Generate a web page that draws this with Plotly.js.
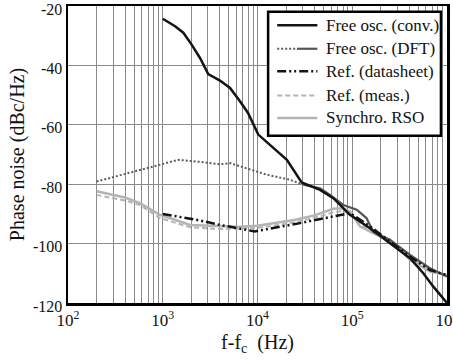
<!DOCTYPE html>
<html>
<head>
<meta charset="utf-8">
<script src="https://cdn.plot.ly/plotly-3.0.1.min.js"></script>
<style>html,body{margin:0;padding:0;background:#fff;}#chart{width:453px;height:363px;}</style>
</head>
<body>
<div id="chart"></div>
<script>
// Free oscillator (conventional)
const convF = [1000, 1349, 1648, 2018, 2472, 3020, 4018, 5129, 6531, 7943, 10190, 14690, 20420, 29240, 45710, 63100, 94620, 153800, 251200, 407400, 562300, 717800, 1000000];
const convV = [-24.3, -26.8, -29.0, -33.0, -37.5, -42.9, -45.1, -47.6, -52.1, -56.0, -63.3, -67.8, -71.8, -79.4, -81.9, -84.7, -90.3, -94.8, -99.9, -104.9, -110.0, -114.5, -120.0];
// Free oscillator (DFT) - dotted part
const dftDotF = [200, 400, 800, 1460, 2500, 4000, 5130, 7690, 12500, 22000, 30400];
const dftDotV = [-79.1, -76.6, -74.0, -71.8, -72.5, -73.3, -72.9, -74.6, -76.8, -78.5, -80.2];
// Free oscillator (DFT) - solid part
const dftSolF = [30400, 45700, 58200, 80400, 111400, 141300, 166000, 251200, 407400, 660700, 1000000];
const dftSolV = [-80.2, -81.4, -83.6, -87.0, -88.6, -91.4, -96.0, -98.8, -103.8, -108.3, -111.1];
// Reference (datasheet)
const dsF = [1000, 2450, 4000, 9330, 28200, 87100, 95000, 154000, 251200, 407400, 660700, 1000000];
const dsV = [-90.0, -92.2, -93.7, -95.9, -93.1, -90.0, -89.7, -94.2, -99.3, -104.4, -108.9, -110.6];
// Reference (measured)
const measF = [200, 400, 575, 933, 1950, 3980, 6310, 10000, 15850, 25120, 39810, 63100, 79430, 100000, 120200, 182000, 251200, 407400, 660700, 1000000];
const measV = [-83.6, -85.5, -87.0, -91.4, -94.5, -95.1, -95.0, -94.7, -93.8, -92.8, -91.3, -89.5, -89.0, -90.5, -93.5, -96.5, -99.5, -104.8, -108.5, -111.1];
// Synchronized RSO
const rsoF = [200, 400, 575, 933, 1950, 3980, 6310, 10000, 15850, 25120, 39810, 63100, 79430, 95000, 120200, 182000, 251200, 407400, 660700, 1000000];
const rsoV = [-82.4, -84.5, -86.4, -90.3, -93.7, -94.0, -94.3, -94.0, -93.0, -92.0, -90.5, -88.3, -88.1, -89.2, -94.2, -97.1, -98.8, -105.5, -109.4, -110.6];

const legendNames = ["Free osc. (conv.)", "Free osc. (DFT)", "Ref. (datasheet)", "Ref. (meas.)", "Synchro. RSO"];
const yTicks = [-120, -100, -80, -60, -40, -20];
const yTickText = ["-120", "-100", "-80", "-60", "-40", "-20"];
const xTicks = [100, 1000, 10000, 100000, 1000000];
const xTickText = ["10<sup>2</sup>", "10<sup>3</sup>", "10<sup>4</sup>", "10<sup>5</sup>", "10<sup>6</sup>"];

const serif = "Liberation Serif";
const cBlack = "#141414", cDark = "#5c5c5c", cLight = "#b4b4b4";

const styles = [
  {color: cBlack, width: 2.5, dash: "solid"},
  {color: cDark, width: 2, dash: "2px,2px"},
  {color: cBlack, width: 2.5, dash: "9px,3px,2px,3px,2px,3px"},
  {color: cLight, width: 2, dash: "5px,3px"},
  {color: cLight, width: 2.5, dash: "solid"}
];

const traces = [
  {x: measF, y: measV, line: styles[3]},
  {x: rsoF, y: rsoV, line: styles[4]},
  {x: dftDotF, y: dftDotV, line: styles[1]},
  {x: dftSolF, y: dftSolV, line: {color: "#555", width: 2.2, dash: "solid"}},
  {x: dsF, y: dsV, line: styles[2]},
  {x: convF, y: convV, line: styles[0]}
].map(t => Object.assign({type: "scatter", mode: "lines", showlegend: false, hoverinfo: "skip"}, t));

// minor gridlines at 2..9 within each decade
const xMinor = [];
for (let d = 2; d <= 5; d++) for (let m = 2; m <= 9; m++) xMinor.push(m * Math.pow(10, d));

// custom legend
const L = {x0: 0.528, x1: 0.984, y0: 0.563, y1: 0.981, sx0: 0.552, sxm: 0.604, sx1: 0.658, tx: 0.676, rows: [0.935, 0.856, 0.780, 0.699, 0.623]};
const shapes = [{type: "rect", xref: "paper", yref: "paper", x0: L.x0, x1: L.x1, y0: L.y0, y1: L.y1, line: {color: "#000", width: 2.5}, fillcolor: "#fff", layer: "above"}];
const annotations = [];
legendNames.forEach((name, i) => {
  const yy = L.rows[i];
  if (i === 1) {
    shapes.push({type: "line", xref: "paper", yref: "paper", x0: L.sx0, x1: L.sxm, y0: yy, y1: yy, line: {color: cDark, width: 2, dash: "2px,2px"}});
    shapes.push({type: "line", xref: "paper", yref: "paper", x0: L.sxm, x1: L.sx1, y0: yy, y1: yy, line: {color: "#555", width: 2.2}});
  } else {
    shapes.push({type: "line", xref: "paper", yref: "paper", x0: L.sx0, x1: L.sx1, y0: yy, y1: yy, line: styles[i]});
  }
  annotations.push({xref: "paper", yref: "paper", x: L.tx, y: yy, xanchor: "left", yanchor: "middle", text: name, showarrow: false, font: {family: serif, size: 17, color: "#111"}});
});

const layout = {
  width: 453, height: 363,
  margin: {l: 68, r: 6, t: 6, b: 60},
  paper_bgcolor: "#fff", plot_bgcolor: "#fff",
  showlegend: false,
  font: {family: serif, size: 17, color: "#111"},
  xaxis: {
    type: "log", range: [2, 6],
    tickmode: "array", tickvals: xTicks, ticktext: xTickText,
    showgrid: true, gridcolor: "#8a8a8a", gridwidth: 1,
    minor: {tickmode: "array", tickvals: xMinor, showgrid: true, gridcolor: "#8a8a8a", gridwidth: 1, ticks: ""},
    showline: true, linecolor: "#000", linewidth: 2.5, mirror: true,
    ticks: "", zeroline: false, ticklabeloverflow: "allow",
    tickfont: {family: serif, size: 17, color: "#111"},
    title: {text: "f-f<sub>c</sub>  (Hz)", font: {family: serif, size: 20, color: "#111"}, standoff: 6}
  },
  yaxis: {
    range: [-120, -20],
    tickmode: "array", tickvals: yTicks, ticktext: yTickText,
    showgrid: true, gridcolor: "#8a8a8a", gridwidth: 1,
    showline: true, linecolor: "#000", linewidth: 2.5, mirror: true,
    ticks: "", zeroline: false, ticklabeloverflow: "allow", ticklabelshift: 3,
    tickfont: {family: serif, size: 16, color: "#111"},
    title: {text: "Phase noise (dBc/Hz)", font: {family: serif, size: 20, color: "#111"}, standoff: 3}
  },
  shapes: shapes,
  annotations: annotations
};

Plotly.newPlot("chart", traces, layout, {displayModeBar: false, staticPlot: true});
</script>
</body>
</html>
